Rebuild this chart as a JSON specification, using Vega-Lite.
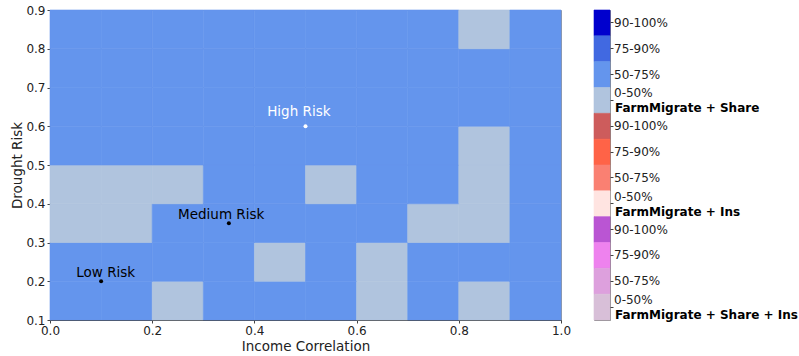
{
  "$schema": "https://vega.github.io/schema/vega-lite/v6.json",
  "padding": {"left": 10, "top": 3, "right": 0, "bottom": 4},
  "spacing": 21,
  "config": {
    "font": "DejaVu Sans",
    "view": {"stroke": null},
    "axis": {
      "grid": false,
      "labelFont": "DejaVu Sans",
      "labelFontSize": 12,
      "labelColor": "#222222",
      "titleFont": "DejaVu Sans",
      "titleFontSize": 13.5,
      "titleFontWeight": "normal",
      "titleColor": "#222222",
      "domainColor": "#444444",
      "tickColor": "#444444",
      "tickSize": 3,
      "labelPadding": 2,
      "labelOverlap": false
    }
  },
  "datasets": {
    "cells": [
      {"x0": 0.0, "x1": 0.1, "y0": 0.1, "y1": 0.2, "k": "Share|50-75%"},
      {"x0": 0.1, "x1": 0.2, "y0": 0.1, "y1": 0.2, "k": "Share|50-75%"},
      {"x0": 0.2, "x1": 0.3, "y0": 0.1, "y1": 0.2, "k": "Share|0-50%"},
      {"x0": 0.3, "x1": 0.4, "y0": 0.1, "y1": 0.2, "k": "Share|50-75%"},
      {"x0": 0.4, "x1": 0.5, "y0": 0.1, "y1": 0.2, "k": "Share|50-75%"},
      {"x0": 0.5, "x1": 0.6, "y0": 0.1, "y1": 0.2, "k": "Share|50-75%"},
      {"x0": 0.6, "x1": 0.7, "y0": 0.1, "y1": 0.2, "k": "Share|0-50%"},
      {"x0": 0.7, "x1": 0.8, "y0": 0.1, "y1": 0.2, "k": "Share|50-75%"},
      {"x0": 0.8, "x1": 0.9, "y0": 0.1, "y1": 0.2, "k": "Share|0-50%"},
      {"x0": 0.9, "x1": 1.0, "y0": 0.1, "y1": 0.2, "k": "Share|50-75%"},

      {"x0": 0.0, "x1": 0.1, "y0": 0.2, "y1": 0.3, "k": "Share|50-75%"},
      {"x0": 0.1, "x1": 0.2, "y0": 0.2, "y1": 0.3, "k": "Share|50-75%"},
      {"x0": 0.2, "x1": 0.3, "y0": 0.2, "y1": 0.3, "k": "Share|50-75%"},
      {"x0": 0.3, "x1": 0.4, "y0": 0.2, "y1": 0.3, "k": "Share|50-75%"},
      {"x0": 0.4, "x1": 0.5, "y0": 0.2, "y1": 0.3, "k": "Share|0-50%"},
      {"x0": 0.5, "x1": 0.6, "y0": 0.2, "y1": 0.3, "k": "Share|50-75%"},
      {"x0": 0.6, "x1": 0.7, "y0": 0.2, "y1": 0.3, "k": "Share|0-50%"},
      {"x0": 0.7, "x1": 0.8, "y0": 0.2, "y1": 0.3, "k": "Share|50-75%"},
      {"x0": 0.8, "x1": 0.9, "y0": 0.2, "y1": 0.3, "k": "Share|50-75%"},
      {"x0": 0.9, "x1": 1.0, "y0": 0.2, "y1": 0.3, "k": "Share|50-75%"},

      {"x0": 0.0, "x1": 0.1, "y0": 0.3, "y1": 0.4, "k": "Share|0-50%"},
      {"x0": 0.1, "x1": 0.2, "y0": 0.3, "y1": 0.4, "k": "Share|0-50%"},
      {"x0": 0.2, "x1": 0.3, "y0": 0.3, "y1": 0.4, "k": "Share|50-75%"},
      {"x0": 0.3, "x1": 0.4, "y0": 0.3, "y1": 0.4, "k": "Share|50-75%"},
      {"x0": 0.4, "x1": 0.5, "y0": 0.3, "y1": 0.4, "k": "Share|50-75%"},
      {"x0": 0.5, "x1": 0.6, "y0": 0.3, "y1": 0.4, "k": "Share|50-75%"},
      {"x0": 0.6, "x1": 0.7, "y0": 0.3, "y1": 0.4, "k": "Share|50-75%"},
      {"x0": 0.7, "x1": 0.8, "y0": 0.3, "y1": 0.4, "k": "Share|0-50%"},
      {"x0": 0.8, "x1": 0.9, "y0": 0.3, "y1": 0.4, "k": "Share|0-50%"},
      {"x0": 0.9, "x1": 1.0, "y0": 0.3, "y1": 0.4, "k": "Share|50-75%"},

      {"x0": 0.0, "x1": 0.1, "y0": 0.4, "y1": 0.5, "k": "Share|0-50%"},
      {"x0": 0.1, "x1": 0.2, "y0": 0.4, "y1": 0.5, "k": "Share|0-50%"},
      {"x0": 0.2, "x1": 0.3, "y0": 0.4, "y1": 0.5, "k": "Share|0-50%"},
      {"x0": 0.3, "x1": 0.4, "y0": 0.4, "y1": 0.5, "k": "Share|50-75%"},
      {"x0": 0.4, "x1": 0.5, "y0": 0.4, "y1": 0.5, "k": "Share|50-75%"},
      {"x0": 0.5, "x1": 0.6, "y0": 0.4, "y1": 0.5, "k": "Share|0-50%"},
      {"x0": 0.6, "x1": 0.7, "y0": 0.4, "y1": 0.5, "k": "Share|50-75%"},
      {"x0": 0.7, "x1": 0.8, "y0": 0.4, "y1": 0.5, "k": "Share|50-75%"},
      {"x0": 0.8, "x1": 0.9, "y0": 0.4, "y1": 0.5, "k": "Share|0-50%"},
      {"x0": 0.9, "x1": 1.0, "y0": 0.4, "y1": 0.5, "k": "Share|50-75%"},

      {"x0": 0.0, "x1": 0.1, "y0": 0.5, "y1": 0.6, "k": "Share|50-75%"},
      {"x0": 0.1, "x1": 0.2, "y0": 0.5, "y1": 0.6, "k": "Share|50-75%"},
      {"x0": 0.2, "x1": 0.3, "y0": 0.5, "y1": 0.6, "k": "Share|50-75%"},
      {"x0": 0.3, "x1": 0.4, "y0": 0.5, "y1": 0.6, "k": "Share|50-75%"},
      {"x0": 0.4, "x1": 0.5, "y0": 0.5, "y1": 0.6, "k": "Share|50-75%"},
      {"x0": 0.5, "x1": 0.6, "y0": 0.5, "y1": 0.6, "k": "Share|50-75%"},
      {"x0": 0.6, "x1": 0.7, "y0": 0.5, "y1": 0.6, "k": "Share|50-75%"},
      {"x0": 0.7, "x1": 0.8, "y0": 0.5, "y1": 0.6, "k": "Share|50-75%"},
      {"x0": 0.8, "x1": 0.9, "y0": 0.5, "y1": 0.6, "k": "Share|0-50%"},
      {"x0": 0.9, "x1": 1.0, "y0": 0.5, "y1": 0.6, "k": "Share|50-75%"},

      {"x0": 0.0, "x1": 0.1, "y0": 0.6, "y1": 0.7, "k": "Share|50-75%"},
      {"x0": 0.1, "x1": 0.2, "y0": 0.6, "y1": 0.7, "k": "Share|50-75%"},
      {"x0": 0.2, "x1": 0.3, "y0": 0.6, "y1": 0.7, "k": "Share|50-75%"},
      {"x0": 0.3, "x1": 0.4, "y0": 0.6, "y1": 0.7, "k": "Share|50-75%"},
      {"x0": 0.4, "x1": 0.5, "y0": 0.6, "y1": 0.7, "k": "Share|50-75%"},
      {"x0": 0.5, "x1": 0.6, "y0": 0.6, "y1": 0.7, "k": "Share|50-75%"},
      {"x0": 0.6, "x1": 0.7, "y0": 0.6, "y1": 0.7, "k": "Share|50-75%"},
      {"x0": 0.7, "x1": 0.8, "y0": 0.6, "y1": 0.7, "k": "Share|50-75%"},
      {"x0": 0.8, "x1": 0.9, "y0": 0.6, "y1": 0.7, "k": "Share|50-75%"},
      {"x0": 0.9, "x1": 1.0, "y0": 0.6, "y1": 0.7, "k": "Share|50-75%"},

      {"x0": 0.0, "x1": 0.1, "y0": 0.7, "y1": 0.8, "k": "Share|50-75%"},
      {"x0": 0.1, "x1": 0.2, "y0": 0.7, "y1": 0.8, "k": "Share|50-75%"},
      {"x0": 0.2, "x1": 0.3, "y0": 0.7, "y1": 0.8, "k": "Share|50-75%"},
      {"x0": 0.3, "x1": 0.4, "y0": 0.7, "y1": 0.8, "k": "Share|50-75%"},
      {"x0": 0.4, "x1": 0.5, "y0": 0.7, "y1": 0.8, "k": "Share|50-75%"},
      {"x0": 0.5, "x1": 0.6, "y0": 0.7, "y1": 0.8, "k": "Share|50-75%"},
      {"x0": 0.6, "x1": 0.7, "y0": 0.7, "y1": 0.8, "k": "Share|50-75%"},
      {"x0": 0.7, "x1": 0.8, "y0": 0.7, "y1": 0.8, "k": "Share|50-75%"},
      {"x0": 0.8, "x1": 0.9, "y0": 0.7, "y1": 0.8, "k": "Share|50-75%"},
      {"x0": 0.9, "x1": 1.0, "y0": 0.7, "y1": 0.8, "k": "Share|50-75%"},

      {"x0": 0.0, "x1": 0.1, "y0": 0.8, "y1": 0.9, "k": "Share|50-75%"},
      {"x0": 0.1, "x1": 0.2, "y0": 0.8, "y1": 0.9, "k": "Share|50-75%"},
      {"x0": 0.2, "x1": 0.3, "y0": 0.8, "y1": 0.9, "k": "Share|50-75%"},
      {"x0": 0.3, "x1": 0.4, "y0": 0.8, "y1": 0.9, "k": "Share|50-75%"},
      {"x0": 0.4, "x1": 0.5, "y0": 0.8, "y1": 0.9, "k": "Share|50-75%"},
      {"x0": 0.5, "x1": 0.6, "y0": 0.8, "y1": 0.9, "k": "Share|50-75%"},
      {"x0": 0.6, "x1": 0.7, "y0": 0.8, "y1": 0.9, "k": "Share|50-75%"},
      {"x0": 0.7, "x1": 0.8, "y0": 0.8, "y1": 0.9, "k": "Share|50-75%"},
      {"x0": 0.8, "x1": 0.9, "y0": 0.8, "y1": 0.9, "k": "Share|0-50%"},
      {"x0": 0.9, "x1": 1.0, "y0": 0.8, "y1": 0.9, "k": "Share|50-75%"}
    ],
    "sites": [
      {"site": "Low Risk", "ic": 0.1, "dr": 0.2, "lx": 0.109, "ly": 0.221},
      {"site": "Medium Risk", "ic": 0.35, "dr": 0.35, "lx": 0.335, "ly": 0.371},
      {"site": "High Risk", "ic": 0.5, "dr": 0.6, "lx": 0.487, "ly": 0.637}
    ],
    "key": [
      {"k": "Share|90-100%", "grp": "FarmMigrate + Share", "lvl": "90-100%"},
      {"k": "Share|75-90%", "grp": "FarmMigrate + Share", "lvl": "75-90%"},
      {"k": "Share|50-75%", "grp": "FarmMigrate + Share", "lvl": "50-75%"},
      {"k": "Share|0-50%", "grp": "FarmMigrate + Share", "lvl": "0-50%"},
      {"k": "Ins|90-100%", "grp": "FarmMigrate + Ins", "lvl": "90-100%"},
      {"k": "Ins|75-90%", "grp": "FarmMigrate + Ins", "lvl": "75-90%"},
      {"k": "Ins|50-75%", "grp": "FarmMigrate + Ins", "lvl": "50-75%"},
      {"k": "Ins|0-50%", "grp": "FarmMigrate + Ins", "lvl": "0-50%"},
      {"k": "ShareIns|90-100%", "grp": "FarmMigrate + Share + Ins", "lvl": "90-100%"},
      {"k": "ShareIns|75-90%", "grp": "FarmMigrate + Share + Ins", "lvl": "75-90%"},
      {"k": "ShareIns|50-75%", "grp": "FarmMigrate + Share + Ins", "lvl": "50-75%"},
      {"k": "ShareIns|0-50%", "grp": "FarmMigrate + Share + Ins", "lvl": "0-50%"}
    ]
  },
  "hconcat": [
    {
      "width": 511,
      "height": 310,
      "view": {"stroke": "#999999"},
      "layer": [
        {
          "data": {"name": "cells"},
          "mark": {"type": "rect", "strokeWidth": 0.6},
          "encoding": {
            "x": {
              "field": "x0", "type": "quantitative",
              "scale": {"domain": [0, 1], "nice": false, "zero": false},
              "axis": {"title": "Income Correlation", "values": [0, 0.2, 0.4, 0.6, 0.8, 1.0], "format": ".1f", "labelFlush": false, "labelOverlap": false, "grid": false, "titlePadding": 3}
            },
            "x2": {"field": "x1"},
            "y": {
              "field": "y0", "type": "quantitative",
              "scale": {"domain": [0.1, 0.9], "nice": false, "zero": false},
              "axis": {"title": "Drought Risk", "values": [0.1, 0.2, 0.3, 0.4, 0.5, 0.6, 0.7, 0.8, 0.9], "format": ".1f", "labelFlush": false, "labelOverlap": false, "grid": false, "titlePadding": 1}
            },
            "y2": {"field": "y1"},
            "color": {
              "field": "k", "type": "nominal",
              "scale": {
                "domain": ["Share|90-100%", "Share|75-90%", "Share|50-75%", "Share|0-50%",
                           "Ins|90-100%", "Ins|75-90%", "Ins|50-75%", "Ins|0-50%",
                           "ShareIns|90-100%", "ShareIns|75-90%", "ShareIns|50-75%", "ShareIns|0-50%"],
                "range": ["#0000CD", "#4169E1", "#6495ED", "#B0C4DE",
                          "#CD5C5C", "#FF6347", "#FA8072", "#FFE4E1",
                          "#BA55D3", "#EE82EE", "#DDA0DD", "#D8BFD8"]
              },
              "legend": null
            },
            "stroke": {
              "field": "k", "type": "nominal",
              "scale": {
                "domain": ["Share|90-100%", "Share|75-90%", "Share|50-75%", "Share|0-50%",
                           "Ins|90-100%", "Ins|75-90%", "Ins|50-75%", "Ins|0-50%",
                           "ShareIns|90-100%", "ShareIns|75-90%", "ShareIns|50-75%", "ShareIns|0-50%"],
                "range": ["#0000CD", "#4169E1", "#6495ED", "#B0C4DE",
                          "#CD5C5C", "#FF6347", "#FA8072", "#FFE4E1",
                          "#BA55D3", "#EE82EE", "#DDA0DD", "#D8BFD8"]
              },
              "legend": null
            }
          }
        },
        {
          "data": {"name": "sites"},
          "mark": {"type": "point", "filled": true, "size": 16, "opacity": 1},
          "encoding": {
            "x": {
              "field": "ic", "type": "quantitative",
              "axis": {"title": "Income Correlation", "values": [0, 0.2, 0.4, 0.6, 0.8, 1.0], "format": ".1f", "labelFlush": false, "labelOverlap": false, "grid": false, "titlePadding": 3}
            },
            "y": {
              "field": "dr", "type": "quantitative",
              "axis": {"title": "Drought Risk", "values": [0.1, 0.2, 0.3, 0.4, 0.5, 0.6, 0.7, 0.8, 0.9], "format": ".1f", "labelFlush": false, "labelOverlap": false, "grid": false, "titlePadding": 1}
            },
            "color": {"condition": {"test": "datum.site === 'High Risk'", "value": "#ffffff"}, "value": "#000000"}
          }
        },
        {
          "data": {"name": "sites"},
          "mark": {"type": "text", "fontSize": 13.5, "align": "center", "baseline": "middle"},
          "encoding": {
            "x": {
              "field": "lx", "type": "quantitative",
              "axis": {"title": "Income Correlation", "values": [0, 0.2, 0.4, 0.6, 0.8, 1.0], "format": ".1f", "labelFlush": false, "labelOverlap": false, "grid": false, "titlePadding": 3}
            },
            "y": {
              "field": "ly", "type": "quantitative",
              "axis": {"title": "Drought Risk", "values": [0.1, 0.2, 0.3, 0.4, 0.5, 0.6, 0.7, 0.8, 0.9], "format": ".1f", "labelFlush": false, "labelOverlap": false, "grid": false, "titlePadding": 1}
            },
            "text": {"field": "site"},
            "color": {"condition": {"test": "datum.site === 'High Risk'", "value": "#ffffff"}, "value": "#000000"}
          }
        }
      ]
    },
    {
      "width": 16,
      "height": 310,
      "view": {"stroke": "#888888"},
      "data": {"name": "key"},
      "encoding": {
        "y": {
          "field": "k", "type": "nominal",
          "sort": ["Share|90-100%", "Share|75-90%", "Share|50-75%", "Share|0-50%",
                   "Ins|90-100%", "Ins|75-90%", "Ins|50-75%", "Ins|0-50%",
                   "ShareIns|90-100%", "ShareIns|75-90%", "ShareIns|50-75%", "ShareIns|0-50%"],
          "scale": {"paddingInner": 0, "paddingOuter": 0},
          "axis": {"orient": "right", "title": null, "domain": false, "grid": false, "tickSize": 3, "labels": false}
        }
      },
      "layer": [
        {
          "mark": {"type": "rect", "strokeWidth": 0.6},
          "encoding": {
            "color": {"field": "k", "type": "nominal", "legend": null},
            "stroke": {"field": "k", "type": "nominal", "legend": null}
          }
        },
        {
          "transform": [{"filter": "datum.lvl !== '0-50%'"}],
          "mark": {"type": "text", "align": "left", "baseline": "middle", "dx": 4, "fontSize": 12, "color": "#222222"},
          "encoding": {
            "x": {"datum": 1, "type": "quantitative", "scale": {"domain": [0, 1]}, "axis": null},
            "text": {"field": "lvl"}
          }
        },
        {
          "transform": [{"filter": "datum.lvl === '0-50%'"}],
          "mark": {"type": "text", "align": "left", "baseline": "middle", "dx": 4, "dy": -7, "fontSize": 12, "color": "#222222"},
          "encoding": {
            "x": {"datum": 1, "type": "quantitative"},
            "text": {"field": "lvl"}
          }
        },
        {
          "transform": [{"filter": "datum.lvl === '0-50%'"}],
          "mark": {"type": "text", "align": "left", "baseline": "middle", "dx": 5, "dy": 8, "fontWeight": "bold", "fontSize": 12, "color": "#000000"},
          "encoding": {
            "x": {"datum": 1, "type": "quantitative"},
            "text": {"field": "grp"}
          }
        }
      ]
    }
  ]
}
